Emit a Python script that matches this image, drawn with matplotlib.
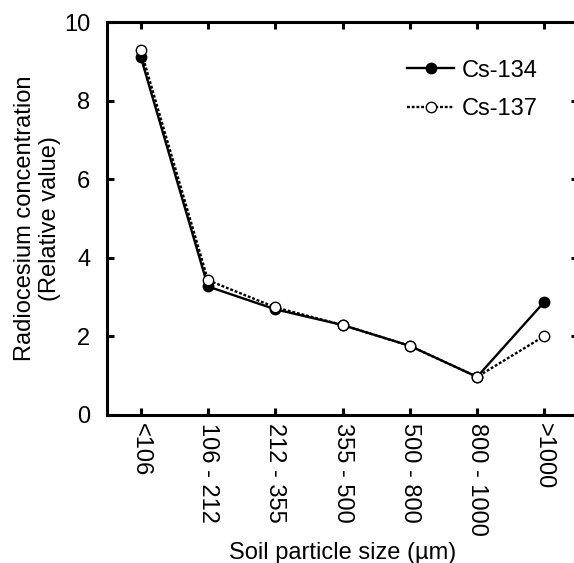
import matplotlib

matplotlib.use("Agg")

import matplotlib.pyplot as plt
import numpy as np


plt.rcParams["font.family"] = ["Liberation Sans", "DejaVu Sans"]
plt.rcParams["font.size"] = 17

sizes = ["<106", "106 - 212", "212 - 355", "355 - 500", "500 - 800", "800 - 1000", ">1000"]
cs134 = [9.12, 3.27, 2.69, 2.29, 1.76, 0.97, 2.88]
cs137 = [9.30, 3.43, 2.74, 2.29, 1.76, 0.97, 2.01]


def main():
    fig = plt.figure(figsize=(5.74, 5.63), dpi=100)
    ax = fig.add_axes([0.1864, 0.2629, 0.8206, 0.698])

    x = np.arange(len(sizes))
    ax.plot(x, cs134, color="black", lw=1.7, marker="o", ms=7.5,
            mfc="black", mec="black", mew=1, label="Cs-134", zorder=3)
    ax.plot(x, cs137, color="black", lw=1.7, ls=(0, (1.2, 0.8)), marker="o", ms=7.5,
            mfc="white", mec="black", mew=1, label="Cs-137", zorder=4)

    ax.set_xlim(-0.5, 6.5)
    ax.set_ylim(0, 10)
    ax.set_xticks(x)
    ax.set_xticklabels(sizes, rotation=270)
    ax.set_yticks([0, 2, 4, 6, 8, 10])
    ax.tick_params(direction="in", length=5, width=2.2, top=True, right=True)
    ax.tick_params(axis="x", pad=6)
    ax.tick_params(axis="y", pad=12)
    for sp in ax.spines.values():
        sp.set_linewidth(2.2)

    ax.set_xlabel("Soil particle size (µm)", labelpad=4)
    ax.set_ylabel("Radiocesium concentration\n(Relative value)", labelpad=2)

    ax.legend(loc="upper right", bbox_to_anchor=(0.934, 0.928), frameon=False,
              handlelength=2.0, handletextpad=0.3, labelspacing=0.7, borderaxespad=0)

    fig.savefig("out.png", dpi=100)
    plt.close(fig)


if __name__ == "__main__":
    main()
